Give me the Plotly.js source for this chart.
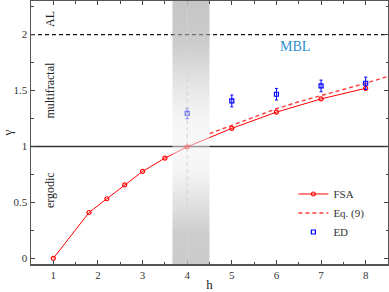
<!DOCTYPE html>
<html>
<head>
<meta charset="utf-8">
<script src="https://cdn.plot.ly/plotly-3.0.1.min.js"></script>
<style>html,body{margin:0;padding:0;background:#fff}#chart{width:389px;height:292px}</style>
</head>
<body>
<div id="chart"></div>
<script>
// FSA data
var fsaH = [1, 1.8, 2.2, 2.6, 3, 3.5, 4, 5, 6, 7, 8];
var fsaGamma = [0, 0.41, 0.533, 0.657, 0.777, 0.896, 0.997, 1.162, 1.307, 1.425, 1.52];
// Eq. (9)
var eqH = [4.5, 5, 5.5, 6, 6.5, 7, 7.5, 8, 8.5];
var eqGamma = [1.115, 1.19, 1.265, 1.337, 1.40, 1.455, 1.51, 1.565, 1.627];
// ED data
var edH = [4, 5, 6, 7, 8];
var edGamma = [1.295, 1.407, 1.467, 1.541, 1.565];
var edErr = [0.047, 0.053, 0.052, 0.052, 0.055];
// shaded crossover band
var bandX = [3.67, 4.5];
var yRange = [-0.05, 2.3];
var xRange = [0.5, 8.5];
// region labels
var regionLabels = ['AL', 'multifractal', 'ergodic'];
var regionY = [2.14, 1.508, 0.61];

var serif = 'Liberation Serif, Times New Roman, serif';

var traces = [
  {
    x: fsaH, y: fsaGamma, name: 'FSA', mode: 'lines+markers',
    line: {color: '#ff0000', width: 1},
    marker: {symbol: 'circle-open', size: 4, color: '#ff0000', line: {width: 1.2}}
  },
  {
    x: eqH, y: eqGamma, name: 'Eq. (9)', mode: 'lines',
    line: {color: '#ff3b3b', width: 1.4, dash: '4px,3px'}
  },
  {
    x: edH, y: edGamma, name: 'ED', mode: 'markers',
    marker: {symbol: 'square-open', size: 4, color: '#0000ff', line: {width: 1.2}},
    error_y: {type: 'data', array: edErr, visible: true, color: '#0000ff', thickness: 1, width: 1.5}
  },
  {
    x: [bandX[0], bandX[1], bandX[1], bandX[0], bandX[0]],
    y: [yRange[0], yRange[0], yRange[1], yRange[1], yRange[0]],
    mode: 'none', fill: 'toself', showlegend: false, hoverinfo: 'skip',
    fillgradient: {
      type: 'vertical', start: yRange[0], stop: yRange[1],
      colorscale: [
        [0, 'rgba(170,170,170,0.62)'],
        [0.12, 'rgba(172,172,172,0.6)'],
        [0.36, 'rgba(235,235,235,0.5)'],
        [0.45, 'rgba(240,240,240,0.5)'],
        [0.55, 'rgba(236,236,236,0.5)'],
        [0.84, 'rgba(172,172,172,0.62)'],
        [1, 'rgba(168,168,168,0.66)']
      ]
    }
  }
];

var annotations = regionLabels.map(function (t, i) {
  return {x: 0.925, y: regionY[i], xref: 'x', yref: 'y', text: t, showarrow: false,
    textangle: -90, font: {family: serif, size: 12, color: '#222'}};
});
annotations.push({x: 6.41, y: 1.895, xref: 'x', yref: 'y', text: 'MBL', showarrow: false,
  font: {family: serif, size: 14, color: '#2a8fcf'}});

var layout = {
  width: 389, height: 292,
  margin: {l: 31, r: 1, t: 1, b: 28},
  paper_bgcolor: '#fff', plot_bgcolor: '#fff',
  font: {family: serif, size: 11, color: '#333'},
  showlegend: true,
  legend: {x: 0.735, xanchor: 'left', y: 0.194, yanchor: 'middle',
    bgcolor: 'rgba(0,0,0,0)', font: {family: serif, size: 11, color: '#333'}},
  xaxis: {
    range: xRange, tickvals: [1, 2, 3, 4, 5, 6, 7, 8], ticks: 'inside', ticklen: 4,
    tickcolor: '#444', showgrid: false, zeroline: false, showline: true, linecolor: '#555',
    linewidth: 1.5, mirror: 'ticks',
    minor: {dtick: 0.5, tick0: 0.5, ticks: 'inside', ticklen: 2.5, tickcolor: '#444', showgrid: false},
    title: {text: 'h', font: {family: serif, size: 13, color: '#222'}, standoff: 4}
  },
  yaxis: {
    range: yRange, tickvals: [0, 0.5, 1, 1.5, 2], ticktext: ['0', '0.5', '1', '1.5', '2'],
    ticks: 'inside', ticklen: 4, tickcolor: '#444', showgrid: false, zeroline: false,
    showline: true, linecolor: '#555', linewidth: 1.5, mirror: 'ticks',
    minor: {dtick: 0.25, tick0: 0, ticks: 'inside', ticklen: 2.5, tickcolor: '#444', showgrid: false},
    title: {text: 'γ', font: {family: serif, size: 13, color: '#222'}, standoff: 4}
  },
  shapes: [
    {type: 'line', xref: 'paper', x0: 0, x1: 1, yref: 'y', y0: 2, y1: 2, layer: 'below',
      line: {color: '#111', width: 1.2, dash: '4px,3px'}},
    {type: 'line', xref: 'paper', x0: 0, x1: 1, yref: 'y', y0: 1, y1: 1, layer: 'below',
      line: {color: '#333', width: 1.4}},
    {type: 'line', xref: 'x', x0: 4, x1: 4, yref: 'paper', y0: 0, y1: 1, layer: 'above',
      line: {color: '#d4d4d4', width: 1, dash: '4px,3px'}}
  ],
  annotations: annotations
};

Plotly.newPlot('chart', traces, layout, {displayModeBar: false, staticPlot: true});
</script>
</body>
</html>
